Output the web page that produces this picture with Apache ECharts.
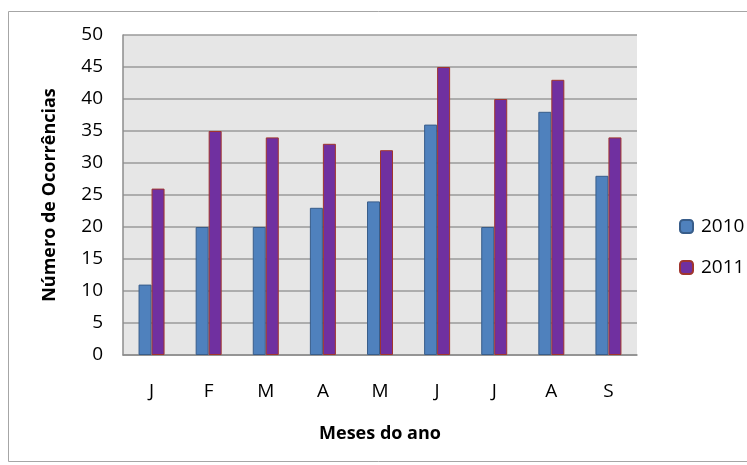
<!DOCTYPE html>
<html>
<head>
<meta charset="utf-8">
<script src="https://cdn.jsdelivr.net/npm/echarts@6/dist/echarts.min.js"></script>
<style>
  html, body { margin: 0; padding: 0; background: #fff; }
  #chart { width: 747px; height: 465px; }
</style>
</head>
<body>
<div id="chart"></div>
<script>
// meses (eixo x) e ocorrencias por ano
const months = ["J", "F", "M", "A", "M", "J", "J", "A", "S"];
const values2010 = [11, 20, 20, 23, 24, 36, 20, 38, 28];
const values2011 = [26, 35, 34, 33, 32, 45, 40, 43, 34];
const seriesNames = ["2010", "2011"];

const font = "'Open Sans', sans-serif";
const chart = echarts.init(document.getElementById("chart"));

chart.setOption({
  animation: false,
  textStyle: { fontFamily: font },
  graphic: [
    {
      type: "rect",
      shape: { x: 8.5, y: 11.5, width: 745, height: 450 },
      style: { fill: "none", stroke: "#a6a6a6", lineWidth: 1 },
      z: -10,
    },
  ],
  legend: {
    orient: "vertical",
    left: 674,
    top: 212,
    itemWidth: 13,
    itemHeight: 13,
    itemGap: 22,
    textStyle: { fontSize: 19, color: "#000", fontFamily: font, padding: [0, 0, 0, 3] },
    data: seriesNames,
  },
  grid: {
    left: 123,
    right: 110,
    top: 35,
    bottom: 110,
    show: true,
    backgroundColor: "#e6e6e6",
    borderWidth: 0,
  },
  xAxis: {
    type: "category",
    data: months,
    name: "Meses do ano",
    nameLocation: "middle",
    nameGap: 70,
    nameTextStyle: { fontSize: 18, fontWeight: "bold", color: "#000", fontFamily: font },
    axisLine: { lineStyle: { color: "#8c8c8c", width: 1.5 } },
    axisTick: { show: false },
    axisLabel: { margin: 27, fontSize: 19, color: "#000", fontFamily: font },
  },
  yAxis: {
    type: "value",
    min: 0,
    max: 50,
    interval: 5,
    name: "Número de Ocorrências",
    nameLocation: "middle",
    nameGap: 64,
    nameTextStyle: { fontSize: 18, fontWeight: "bold", color: "#000", fontFamily: font },
    axisLine: { show: true, lineStyle: { color: "#8c8c8c", width: 1.5 } },
    axisTick: { show: false },
    axisLabel: { margin: 20, fontSize: 19, color: "#000", fontFamily: font },
    splitLine: { lineStyle: { color: "#9a9a9a", width: 1.5 } },
  },
  series: [
    {
      name: seriesNames[0],
      type: "bar",
      data: values2010,
      barWidth: 13,
      barGap: "0%",
      itemStyle: { color: "#4f81bd", borderColor: "#385d8a", borderWidth: 1 },
    },
    {
      name: seriesNames[1],
      type: "bar",
      data: values2011,
      barWidth: 13,
      barGap: "0%",
      itemStyle: { color: "#7030a0", borderColor: "#a0352e", borderWidth: 1 },
    },
  ],
});
</script>
</body>
</html>
